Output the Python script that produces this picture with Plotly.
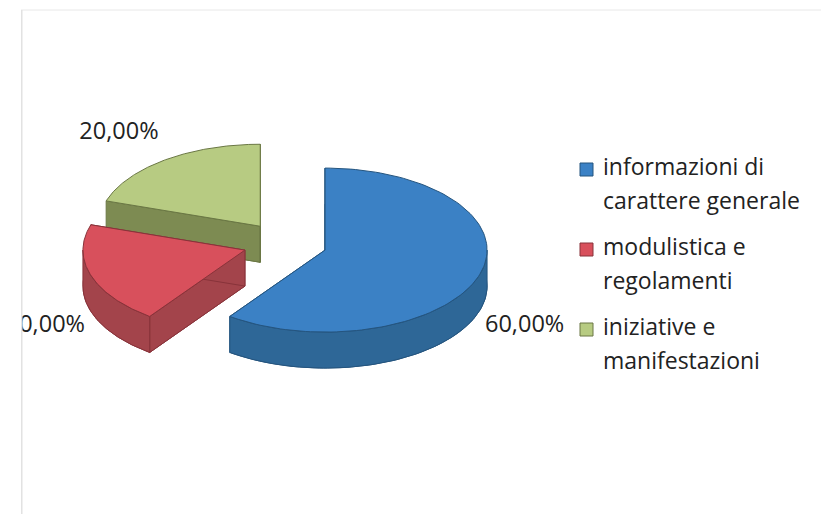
import numpy as np
import plotly.graph_objects as go

# Data
categories = ["informazioni di carattere generale", "modulistica e regolamenti", "iniziative e manifestazioni"]
legend_lines = [["informazioni di", "carattere generale"], ["modulistica e", "regolamenti"], ["iniziative e", "manifestazioni"]]
values = [60.0, 20.0, 20.0]

# Styling
top_colors = ["#3b81c5", "#d8505c", "#b7cb82"]
side_colors = ["#2e6797", "#a3444b", "#7d8b52"]
edge_colors = ["#25557f", "#88333a", "#6a7744"]
label_pos = [(485, 326, "middle right"), (85, 326, "middle left"), (119, 133, "middle center")]
FONT = "Open Sans"
LABEL_FS = 23.5
LEGEND_FS = 23
TEXT_COLOR = "#222222"

# Pie geometry in page pixels (y grows downward)
CX, CY = 285.0, 243.5
RX, RY = 162.0, 82.0
EXPLODE = 0.26
DEPTH = 36.0
LEFT = 21  # left edge of the drawing area

total = sum(values)
fracs = [v / total for v in values]
starts = np.cumsum([0] + fracs[:-1]) * 360.0
ends = np.cumsum(fracs) * 360.0


def arc(cx, cy, a0, a1, n=90, dy=0.0):
    a = np.radians(np.linspace(a0, a1, n))
    return cx + RX * np.sin(a), cy - RY * np.cos(a) + dy


slices = []
for i, (a0, a1) in enumerate(zip(starts, ends)):
    mid = np.radians((a0 + a1) / 2)
    cx = CX + EXPLODE * RX * np.sin(mid)
    cy = CY - EXPLODE * RY * np.cos(mid)
    slices.append((i, cx, cy, a0, a1))

fig = go.Figure()


def face(xs, ys, fill, edge, name=None):
    fig.add_trace(go.Scatter(x=list(xs) + [xs[0]], y=list(ys) + [ys[0]], mode="lines",
                             fill="toself", fillcolor=fill, line=dict(color=edge, width=1),
                             name=name, hoverinfo="name" if name else "skip", showlegend=False))


# paint back-to-front: slices further up the page are drawn first
for i, cx, cy, a0, a1 in sorted(slices, key=lambda s: s[2]):
    # bottom face
    bx, by = arc(cx, cy, a0, a1, dy=DEPTH)
    face(np.r_[cx, bx], np.r_[cy + DEPTH, by], side_colors[i], edge_colors[i])
    # the two radial cut faces
    for a in (a0, a1):
        px, py = arc(cx, cy, a, a, n=1)
        face([cx, px[0], px[0], cx], [cy, py[0], py[0] + DEPTH, cy + DEPTH],
             side_colors[i], edge_colors[i])
    # outer curved wall, only the part turned toward the viewer
    v0, v1 = max(a0, 90.0), min(a1, 270.0)
    if v1 > v0:
        tx, ty = arc(cx, cy, v0, v1)
        face(np.r_[tx, tx[::-1]], np.r_[ty, ty[::-1] + DEPTH], side_colors[i], edge_colors[i])
    # top face
    tx, ty = arc(cx, cy, a0, a1, n=120)
    face(np.r_[cx, tx], np.r_[cy, ty], top_colors[i], edge_colors[i], name=categories[i])

# percentage labels (clipped to the drawing area)
for i, v in enumerate(values):
    lx, ly, pos = label_pos[i]
    txt = f"{v:.2f}".replace(".", ",") + "%"
    fig.add_trace(go.Scatter(x=[lx], y=[ly], mode="text", text=[txt], textposition=pos,
                             textfont=dict(family=FONT, size=LABEL_FS, color=TEXT_COLOR),
                             hoverinfo="skip", showlegend=False, cliponaxis=True))

# legend
LEG_X, LEG_Y0, ENTRY_GAP, LINE_GAP = 580, 166, 80, 34
for i, lines in enumerate(legend_lines):
    y0 = LEG_Y0 + i * ENTRY_GAP
    fig.add_shape(type="rect", x0=LEG_X, x1=LEG_X + 13, y0=y0 - 3, y1=y0 + 10,
                  fillcolor=top_colors[i], line=dict(color=edge_colors[i], width=1))
    for j, line in enumerate(lines):
        fig.add_annotation(x=LEG_X + 21, y=y0 + j * LINE_GAP, text=line, showarrow=False,
                           xanchor="left", yanchor="middle",
                           font=dict(family=FONT, size=LEGEND_FS, color=TEXT_COLOR))

# faint frame
fig.add_shape(type="line", x0=LEFT, x1=821, y0=10, y1=10, line=dict(color="#e8e8e8", width=1))
fig.add_shape(type="line", x0=LEFT + 0.5, x1=LEFT + 0.5, y0=10, y1=514,
              line=dict(color="#e2e2e2", width=2))

fig.update_layout(
    width=821, height=514,
    margin=dict(l=LEFT, r=0, t=0, b=0),
    paper_bgcolor="white", plot_bgcolor="white",
    xaxis=dict(range=[LEFT, 821], visible=False, fixedrange=True),
    yaxis=dict(range=[514, 0], visible=False, fixedrange=True),
    showlegend=False,
)

fig.write_html("out.html")
